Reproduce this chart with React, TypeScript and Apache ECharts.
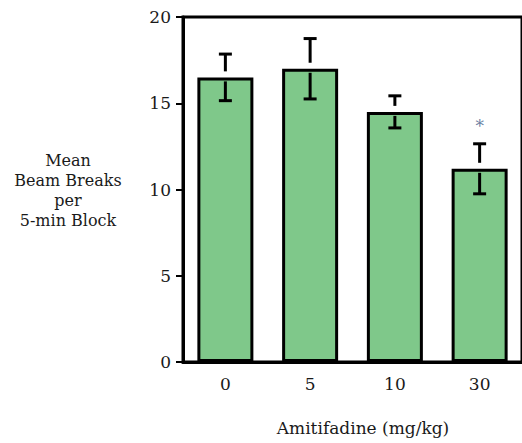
import React, { useEffect, useRef } from "react";
import * as echarts from "echarts";

const categories = ["0", "5", "10", "30"];
const means = [16.5, 17.0, 14.5, 11.2];
const errors = [1.35, 1.75, 0.93, 1.45];
const significance = ["", "", "", "*"];
const yTicks = { min: 0, max: 20, interval: 5 };
const yTitle = "Mean\nBeam Breaks\nper\n5-min Block";
const xTitle = "Amitifadine (mg/kg)";

const FONT = "DejaVu Serif";

export default function App() {
  const ref = useRef<HTMLDivElement>(null);
  useEffect(() => {
    if (!ref.current) return;
    const chart = echarts.init(ref.current, undefined, { renderer: "svg" });
    const errData = categories.map((c, i) => [i, means[i], errors[i]]);
    chart.setOption({
      animation: false,
      backgroundColor: "#ffffff",
      textStyle: { fontFamily: FONT },
      grid: {
        left: 183,
        top: 17,
        width: 348,
        bottom: 81,
        show: true,
        borderColor: "#000",
        borderWidth: 3,
        backgroundColor: "transparent",
      },
      xAxis: {
        type: "category",
        data: categories,
        axisLine: { lineStyle: { color: "#000", width: 3 } },
        axisTick: { alignWithLabel: true, length: 6, lineStyle: { color: "#000", width: 2 } },
        axisLabel: { color: "#1a1a1a", fontFamily: FONT, fontSize: 17, margin: 13 },
        splitLine: { show: false },
      },
      yAxis: {
        type: "value",
        min: yTicks.min,
        max: yTicks.max,
        interval: yTicks.interval,
        axisLine: { show: true, lineStyle: { color: "#000", width: 3 } },
        axisTick: { show: true, length: 7, lineStyle: { color: "#000", width: 2 } },
        axisLabel: { color: "#1a1a1a", fontFamily: FONT, fontSize: 17, margin: 12 },
        splitLine: { show: false },
      },
      series: [
        {
          type: "bar",
          data: means,
          barWidth: 56,
          itemStyle: { color: "#7fc88a", borderColor: "#000", borderWidth: 3 },
          z: 2,
        },
        {
          type: "custom",
          data: errData,
          z: 5,
          renderItem: (params: any, api: any) => {
            const i = api.value(0);
            const m = api.value(1);
            const e = api.value(2);
            const sig = significance[i];
            const top = api.coord([i, m]);
            const hi = api.coord([i, m + e]);
            const lo = api.coord([i, m - e]);
            const x = top[0];
            const cap = 6.5;
            const ls = { stroke: "#000", lineWidth: 3 };
            const children: any[] = [
              { type: "line", shape: { x1: x, y1: hi[1], x2: x, y2: top[1] - 6 }, style: ls },
              { type: "line", shape: { x1: x - cap, y1: hi[1], x2: x + cap, y2: hi[1] }, style: ls },
              { type: "line", shape: { x1: x, y1: top[1] + 4, x2: x, y2: lo[1] }, style: ls },
              { type: "line", shape: { x1: x - cap, y1: lo[1], x2: x + cap, y2: lo[1] }, style: ls },
            ];
            if (sig) {
              children.push({
                type: "text",
                style: {
                  text: sig,
                  x: x,
                  y: hi[1] - 18,
                  textAlign: "center",
                  textVerticalAlign: "middle",
                  fill: "#6b7fa3",
                  fontFamily: FONT,
                  fontSize: 17,
                },
              });
            }
            return { type: "group", children };
          },
        },
      ],
      graphic: [
        {
          type: "text",
          x: 68,
          y: 190,
          style: {
            text: yTitle,
            textAlign: "center",
            textVerticalAlign: "middle",
            fill: "#1a1a1a",
            fontFamily: FONT,
            fontSize: 16,
            lineHeight: 20,
          },
        },
        {
          type: "text",
          x: 363,
          y: 428,
          style: {
            text: xTitle,
            textAlign: "center",
            textVerticalAlign: "middle",
            fill: "#1a1a1a",
            fontFamily: FONT,
            fontSize: 17,
          },
        },
      ],
    });
    return () => chart.dispose();
  }, []);
  return (
    <div
      ref={ref}
      style={{ position: "fixed", left: 0, top: 0, width: 522, height: 443, background: "#fff" }}
    />
  );
}
